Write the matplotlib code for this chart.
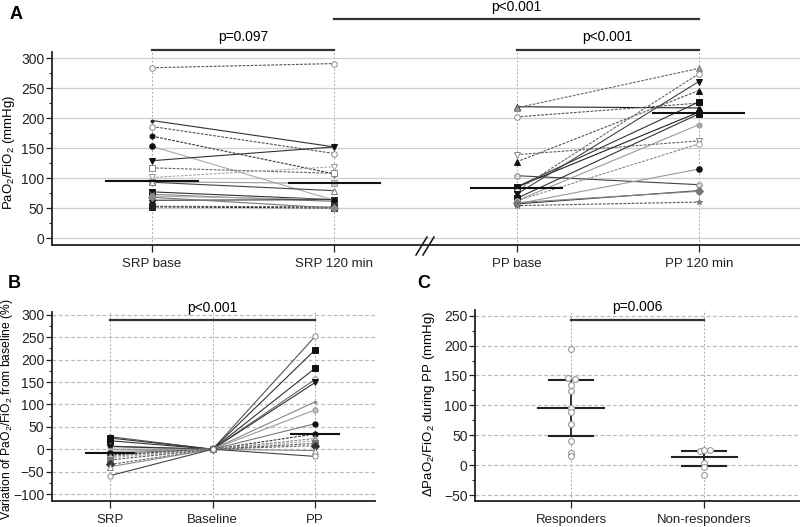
import matplotlib
matplotlib.use('Agg')
import matplotlib.pyplot as plt
from matplotlib.ticker import MultipleLocator
from matplotlib.lines import Line2D

plt.rcParams['font.family'] = ['Liberation Sans', 'DejaVu Sans']
plt.rcParams['mathtext.fontset'] = 'custom'
plt.rcParams['mathtext.rm'] = 'Liberation Sans'
plt.rcParams['mathtext.it'] = 'Liberation Sans:italic'
plt.rcParams['font.size'] = 9.5

# ---------------- data ----------------
a_categories = ['SRP base', 'SRP 120 min', 'PP base', 'PP 120 min']
srp_base = [284, 196, 186, 170, 153, 129, 117, 101, 94, 93, 77, 73, 70, 63, 52, 53, 68]
srp_120 = [291, 152, 141, 107, 63, 152, 108, 119, 91, 79, 64, 61, 64, 64, 50, 52, 50]
pp_base = [219, 217, 202, 139, 127, 104, 85, 85, 79, 73, 66, 62, 62, 57, 57, 59, 54]
pp_120 = [217, 283, 225, 162, 246, 89, 227, 210, 274, 261, 207, 189, 157, 115, 79, 78, 60]
a_means = [95, 91, 84, 208]

b_categories = ['SRP', 'Baseline', 'PP']
b_srp = [28, 25, 19, 7, 6, 0, -5, -9, -13, -16, -19, -24, -34, -39, -59]
b_pp = [252, 222, 181, 156, 149, 106, 88, 57, 34, 24, 19, 13, 8, -3, -16]
b_means = [-8, 34]

c_categories = ['Responders', 'Non-responders']
c_responders = [194, 145, 144, 134, 124, 96, 89, 69, 41, 21, 15]
c_nonresponders = [23, 25, 26, 4, -3, -17]
c_mean = [96, 14]
c_upper = [142, 24]
c_lower = [48, -2]

# ---------------- styles ----------------
DASH = (0, (2.5, 1.2))
a_srp_styles = [
    ('o', 'white', '#888', '#555', DASH),
    ('.', '#222', '#222', '#333', '-'),
    ('o', 'white', '#888', '#555', DASH),
    ('h', '#111', '#111', '#333', DASH),
    ('o', '#111', '#111', '#aaa', '-'),
    ('v', '#111', '#111', '#333', '-'),
    ('s', 'white', '#888', '#666', DASH),
    ('v', 'white', '#999', '#aaa', DASH),
    ('s', '#ccc', '#999', '#999', '-'),
    ('^', 'white', '#777', '#444', '-'),
    ('s', '#111', '#111', '#333', '-'),
    ('x', '#777', '#777', '#888', '-'),
    ('o', '#aaa', '#999', '#aaa', '-'),
    ('o', '#111', '#111', '#333', '-'),
    ('^', '#111', '#111', '#222', DASH),
    ('s', '#222', '#222', '#555', DASH),
    ('D', '#888', '#888', '#777', '-'),
]
a_pp_styles = [
    ('^', '#111', '#111', '#222', '-'),
    ('^', '#999', '#888', '#666', DASH),
    ('o', 'white', '#888', '#555', DASH),
    ('v', 'white', '#888', '#666', DASH),
    ('^', '#111', '#111', '#555', DASH),
    ('o', '#ddd', '#888', '#444', '-'),
    ('s', '#111', '#111', '#333', '-'),
    ('o', '#111', '#111', '#222', '-'),
    ('o', 'white', '#888', '#666', DASH),
    ('v', '#111', '#111', '#444', '-'),
    ('s', '#111', '#111', '#333', '-'),
    ('h', '#aaa', '#999', '#999', '-'),
    ('o', 'white', '#999', '#888', DASH),
    ('o', '#111', '#111', '#999', '-'),
    ('o', '#111', '#111', '#333', '-'),
    ('D', '#777', '#777', '#888', '-'),
    ('*', '#888', '#777', '#555', DASH),
]
b_styles = [
    ('o', 'white', '#888', '#555', '-'),
    ('s', '#111', '#111', '#333', '-'),
    ('s', '#111', '#111', '#333', '-'),
    ('o', 'white', '#888', '#666', '-'),
    ('v', '#111', '#111', '#333', '-'),
    ('.', '#888', '#888', '#888', '-'),
    ('o', '#bbb', '#999', '#999', '-'),
    ('o', '#111', '#111', '#777', '-'),
    ('o', '#111', '#111', '#333', DASH),
    ('^', '#aaa', '#888', '#888', DASH),
    ('o', 'white', '#999', '#aaa', DASH),
    ('s', '#777', '#777', '#555', DASH),
    ('D', '#333', '#333', '#666', DASH),
    ('^', 'white', '#888', '#888', '-'),
    ('o', 'white', '#888', '#444', '-'),
]

fig = plt.figure(figsize=(8, 5.27), dpi=100)

def style_axes(ax, xlim, ylim, major, minor, grid_ls, grid_color):
    ax.set_xlim(*xlim)
    ax.set_ylim(*ylim)
    for s in ('top', 'right'):
        ax.spines[s].set_visible(False)
    for s in ('left', 'bottom'):
        ax.spines[s].set_linewidth(1.3)
        ax.spines[s].set_color('#222')
    ax.yaxis.set_major_locator(MultipleLocator(major))
    ax.yaxis.set_minor_locator(MultipleLocator(minor))
    ax.tick_params(axis='y', which='major', length=4, width=0.9, colors='#222', labelsize=10, pad=1.5)
    ax.tick_params(axis='y', which='minor', length=2.5, width=0.8, colors='#222')
    ax.tick_params(axis='x', length=5, width=0.9, colors='#222', pad=4, labelsize=9.5)
    ax.grid(axis='y', which='major', color=grid_color, ls=grid_ls, lw=0.9)
    ax.grid(axis='x', which='major', color='#aaaaaa', ls=(0, (2, 2)), lw=0.7)
    ax.set_axisbelow(True)

def pair_line(ax, xs, ys, st, ms=4):
    m, fc, ec, lc, ls = st
    ax.plot(xs, ys, color=lc, ls=ls, lw=0.8, zorder=3)
    ax.plot(xs, ys, ls='none', marker=m, ms=ms, mfc=fc, mec=ec, mew=0.7, zorder=4)

def sig(ax, x0, x1, y, ty, text):
    ax.plot([x0, x1], [y, y], color='#333', lw=1.6, clip_on=False, zorder=5)
    ax.text((x0 + x1) / 2, ty, text, ha='center', va='center', fontsize=10)

# ---------------- Panel A ----------------
axA = fig.add_axes([0.065, 0.535, 0.935, 0.366])
style_axes(axA, (-0.549, 3.555), (-11.7, 310), 50, 25, '-', '#cfcfcf')
axA.set_xticks(range(4))
axA.set_xticklabels(a_categories)
for b, e, st in zip(srp_base, srp_120, a_srp_styles):
    pair_line(axA, [0, 1], [b, e], st)
for b, e, st in zip(pp_base, pp_120, a_pp_styles):
    pair_line(axA, [2, 3], [b, e], st)
for i, mval in enumerate(a_means):
    axA.plot([i - 0.25, i + 0.25], [mval, mval], color='#111', lw=1.5, zorder=6)
axA.set_ylabel('PaO$_2$/FiO$_2$ (mmHg)', fontsize=9.5)
axA.yaxis.set_label_coords(-0.047, 0.48)
sig(axA, 0, 1, 313, 335, 'p=0.097')
sig(axA, 2, 3, 313, 335, 'p<0.001')
sig(axA, 1, 3, 365, 386, 'p<0.001')

# break marks on the x axis
for dx in (0, 7):
    x0, x1 = 416 + dx, 427 + dx
    fig.add_artist(Line2D([x0 / 800, x1 / 800], [1 - 255 / 527, 1 - 237 / 527],
                          color='#111', lw=1.1))

# ---------------- Panel B ----------------
axB = fig.add_axes([0.065, 0.0493, 0.404, 0.359])
style_axes(axB, (-0.566, 2.585), (-115.6, 306.7), 50, 25, (0, (3, 2)), '#bbbbbb')
axB.set_xticks(range(3))
axB.set_xticklabels(b_categories)
for s, p, st in zip(b_srp, b_pp, b_styles):
    pair_line(axB, [0, 1, 2], [s, 0, p], st, ms=3.8)
axB.plot([-0.235, 0.235], [b_means[0]] * 2, color='#111', lw=1.5, zorder=6)
axB.plot([2 - 0.235, 2 + 0.235], [b_means[1]] * 2, color='#111', lw=1.5, zorder=6)
axB.set_ylabel('Variation of PaO$_2$/FiO$_2$ from baseline (%)', fontsize=8.7)
axB.yaxis.set_label_coords(-0.116, 0.487)
sig(axB, 0, 2, 289, 316, 'p<0.001')

# ---------------- Panel C ----------------
axC = fig.add_axes([0.594, 0.0493, 0.406, 0.3625])
style_axes(axC, (-0.72, 1.72), (-60, 259.5), 50, 25, (0, (3, 2)), '#bbbbbb')
axC.set_xticks(range(2))
axC.set_xticklabels(c_categories)
r_off = [0, -0.02, 0.03, 0, 0, 0, 0, 0, 0, 0, 0]
n_off = [-0.03, 0, 0.045, 0, 0, 0]
for i, (vals, offs) in enumerate(((c_responders, r_off), (c_nonresponders, n_off))):
    axC.plot([i, i], [c_lower[i], c_upper[i]], color='#222', lw=1.3, zorder=3)
    for yv in (c_lower[i], c_upper[i]):
        axC.plot([i - 0.165, i + 0.165], [yv, yv], color='#222', lw=1.5, zorder=3)
    axC.plot([i - 0.245, i + 0.245], [c_mean[i]] * 2, color='#222', lw=1.5, zorder=3)
    axC.plot([i + o for o in offs], vals, ls='none', marker='o', ms=4.2,
             mfc='white', mec='#999', mew=0.8, zorder=4)
axC.set_ylabel('ΔPaO$_2$/FiO$_2$ during PP (mmHg)', fontsize=9.5)
axC.yaxis.set_label_coords(-0.117, 0.51)
sig(axC, 0, 1, 242.5, 264, 'p=0.006')

# panel letters
fig.text(0.012, 0.972, 'A', fontsize=13, fontweight='bold', va='center')
fig.text(0.010, 0.462, 'B', fontsize=13, fontweight='bold', va='center')
fig.text(0.522, 0.462, 'C', fontsize=13, fontweight='bold', va='center')

fig.savefig('out.png', dpi=100)
